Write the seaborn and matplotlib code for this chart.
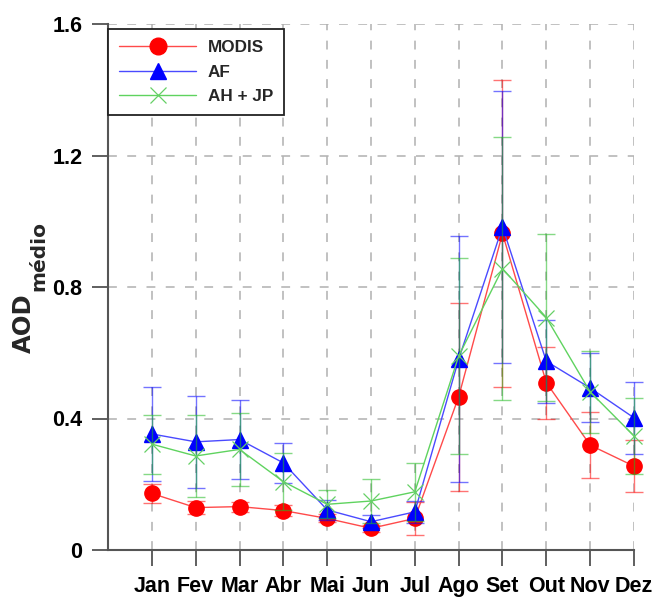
import matplotlib
matplotlib.use("Agg")
import matplotlib.pyplot as plt
from matplotlib.lines import Line2D
import seaborn as sns
import numpy as np
import pandas as pd

months = ["Jan", "Fev", "Mar", "Abr", "Mai", "Jun", "Jul", "Ago", "Set", "Out", "Nov", "Dez"]
modis = [0.172, 0.129, 0.132, 0.120, 0.096, 0.066, 0.096, 0.466, 0.963, 0.509, 0.319, 0.255]
modis_err = [0.030, 0.021, 0.015, 0.018, 0.012, 0.010, 0.050, 0.286, 0.466, 0.109, 0.101, 0.080]
af = [0.353, 0.329, 0.336, 0.265, 0.122, 0.086, 0.116, 0.580, 0.983, 0.574, 0.493, 0.402]
af_err = [0.143, 0.140, 0.120, 0.060, 0.030, 0.020, 0.034, 0.374, 0.413, 0.127, 0.105, 0.110]
ahjp = [0.322, 0.286, 0.306, 0.208, 0.139, 0.149, 0.177, 0.590, 0.856, 0.707, 0.481, 0.347]
ahjp_err = [0.090, 0.125, 0.112, 0.086, 0.043, 0.067, 0.088, 0.298, 0.400, 0.253, 0.125, 0.115]
series_names = ["MODIS", "AF", "AH + JP"]
y_ticks = [0, 0.4, 0.8, 1.2, 1.6]
y_tick_labels = ["0", "0.4", "0.8", "1.2", "1.6"]

sns.set_style("white")
plt.rcParams["font.family"] = ["Liberation Sans", "DejaVu Sans"]
plt.rcParams["font.weight"] = "bold"

fig = plt.figure(figsize=(6.57, 5.99), dpi=100)
ax = fig.add_axes([108 / 657, 49 / 599, 526 / 657, 526 / 599])

x = np.arange(1, 13)
df = pd.DataFrame({"x": x, "MODIS": modis, "AF": af, "AH + JP": ahjp})

styles = [
    dict(name="MODIS", vals=modis, err=modis_err, ecol="#ff0000", lcol="#ff4a4a", mcol="#ff0000",
         marker="o", ms=11, mew=1, mfc="#ff0000"),
    dict(name="AF", vals=af, err=af_err, ecol="#0000ff", lcol="#4a4aff", mcol="#0000ff",
         marker="^", ms=11, mew=1, mfc="#0000ff"),
    dict(name="AH + JP", vals=ahjp, err=ahjp_err, ecol="#22bb22", lcol="#5fd35f", mcol="#66d066",
         marker="x", ms=11, mew=0.9, mfc="none"),
]

z = 3
for s in styles:
    eb = ax.errorbar(x, s["vals"], yerr=s["err"], fmt="none", ecolor=s["ecol"], elinewidth=1.0,
                     capsize=6.5, capthick=1.0, alpha=0.55, zorder=z)
    for child in eb.get_children():
        if child is not None:
            child.set_clip_on(False)
    sns.lineplot(data=df, x="x", y=s["name"], color=s["lcol"], linewidth=1.0, ax=ax,
                 zorder=z + 0.5, clip_on=False)
    sns.lineplot(data=df, x="x", y=s["name"], color=s["mcol"], linestyle="none", marker=s["marker"],
                 markersize=s["ms"], markerfacecolor=s["mfc"], markeredgecolor=s["mcol"],
                 markeredgewidth=s["mew"], ax=ax, zorder=z + 0.7, clip_on=False)
    z += 1

ax.set_xlim(0, 12)
ax.set_ylim(0, 1.6)
ax.set_xticks(x)
ax.set_xticklabels(months, fontweight="bold")
ax.set_yticks(y_ticks)
ax.set_yticklabels(y_tick_labels, fontweight="bold")
ax.set_xlabel("")
ax.set_ylabel("")

ax.grid(True, color="#b0b0b0", linestyle=(0, (5.8, 6.8)), linewidth=1.1)
ax.set_axisbelow(True)
for sp in ["top", "right"]:
    ax.spines[sp].set_visible(False)
for sp in ["left", "bottom"]:
    ax.spines[sp].set_color("#555555")
    ax.spines[sp].set_linewidth(1.5)
ax.tick_params(axis="both", direction="out", length=11.5, width=1.2, color="#444444",
               labelsize=15.5, pad=7, labelcolor="black")
ax.tick_params(axis="both", which="both", bottom=True, left=True)

fig.text(30.5 / 657, 1 - 353 / 599, "AOD", rotation=90, rotation_mode="anchor",
         ha="left", va="baseline", fontsize=17.5, fontweight="bold", family="DejaVu Sans")
fig.text(44 / 657, 1 - 291 / 599, "médio", rotation=90, rotation_mode="anchor",
         ha="left", va="baseline", fontsize=14.5, fontweight="bold", family="DejaVu Sans")

handles = []
for s in styles:
    handles.append(Line2D([], [], color=s["lcol"], linewidth=1.0, marker=s["marker"],
                          markersize=s["ms"] + 1, markerfacecolor=s["mfc"],
                          markeredgecolor=s["mcol"], markeredgewidth=s["mew"]))
leg = ax.legend(handles, series_names, loc="upper left", bbox_to_anchor=(0, 0.99),
                borderaxespad=0, frameon=True, fancybox=False, framealpha=1,
                edgecolor="#222222", handlelength=4.5, handletextpad=0.7,
                borderpad=0.65, labelspacing=0.55, prop={"weight": "bold", "size": 12.3})
leg.get_frame().set_linewidth(1.3)
leg.set_zorder(10)

fig.savefig("out.png", dpi=100)
